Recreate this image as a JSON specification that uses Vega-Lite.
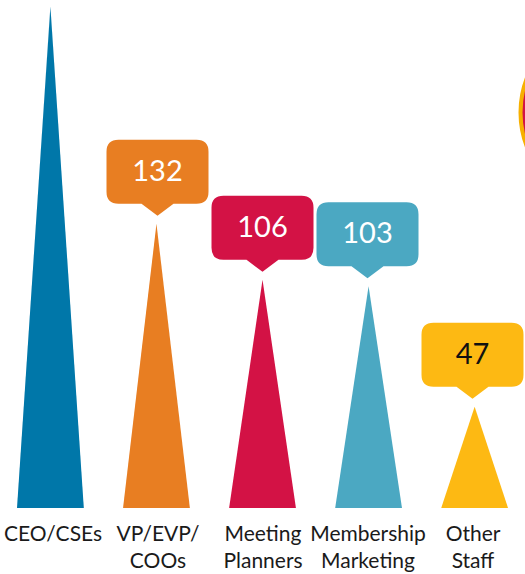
{
  "$schema": "https://vega.github.io/schema/vega-lite/v6.json",
  "autosize": "none",
  "width": 525,
  "height": 508,
  "padding": {"left": 0, "top": 0, "right": 0, "bottom": 66},
  "background": "white",
  "config": {"view": {"stroke": null}},
  "data": {
    "values": [
      {"cat": "CEO/CSEs", "value": 233, "label": "233"},
      {"cat": "VP/EVP/COOs", "value": 132, "label": "132"},
      {"cat": "Meeting Planners", "value": 106, "label": "106"},
      {"cat": "Membership Marketing", "value": 103, "label": "103"},
      {"cat": "Other Staff", "value": 47, "label": "47"}
    ]
  },
  "resolve": {"scale": {"x": "independent"}, "axis": {"x": "independent"}},
  "encoding": {
    "y": {
      "field": "value",
      "type": "quantitative",
      "scale": {"domain": [0, 236], "nice": false},
      "axis": null
    },
    "color": {
      "field": "cat",
      "type": "nominal",
      "sort": null,
      "scale": {
        "domain": ["CEO/CSEs", "VP/EVP/COOs", "Meeting Planners", "Membership Marketing", "Other Staff"],
        "range": ["#0077A9", "#E87E22", "#D31245", "#4BA8C2", "#FDB913"]
      },
      "legend": null
    }
  },
  "layer": [
    {
      "transform": [
        {"window": [{"op": "row_number", "as": "idx"}]},
        {"calculate": "datum.idx - 1.315", "as": "a"},
        {"calculate": "datum.idx - 1", "as": "b"},
        {"calculate": "datum.idx - 0.685", "as": "c"},
        {"fold": ["a", "b", "c"], "as": ["corner", "px"]},
        {"calculate": "datum.corner == 'b' ? datum.value : 0", "as": "h"}
      ],
      "mark": {"type": "area", "opacity": 1, "orient": "vertical"},
      "encoding": {
        "x": {"field": "px", "type": "quantitative", "scale": {"domain": [-0.4752, 4.4748], "nice": false, "zero": false}, "axis": null},
        "y": {"field": "h", "type": "quantitative", "stack": null}
      }
    },
    {
      "layer": [
        {
          "transform": [{"filter": "datum.cat != 'CEO/CSEs'"}],
          "mark": {
            "type": "point",
            "filled": true,
            "opacity": 1,
            "size": 4,
            "shape": "M 0 -8 L -16 -20 L -39 -20 Q -51 -20 -51 -32 L -51 -72 Q -51 -84 -39 -84 L 39 -84 Q 51 -84 51 -72 L 51 -32 Q 51 -20 39 -20 L 16 -20 Z"
          }
        },
        {
          "transform": [{"filter": "datum.cat != 'CEO/CSEs'"}],
          "mark": {
            "type": "text",
            "font": "Lato",
            "fontSize": 29,
            "baseline": "middle",
            "align": "center",
            "dy": -52
          },
          "encoding": {
            "text": {"field": "label"},
            "color": {
              "condition": {"test": "datum.cat == 'Other Staff'", "value": "#111111"},
              "value": "#ffffff"
            }
          }
        },
        {
          "transform": [{"filter": "datum.cat == 'CEO/CSEs'"}],
          "mark": {
            "type": "point",
            "shape": "circle",
            "filled": true,
            "opacity": 1,
            "size": 36864,
            "fill": "#D31245",
            "stroke": "#F7B000",
            "strokeWidth": 4,
            "xOffset": 564,
            "yOffset": 106
          },
          "encoding": {"color": {"value": "#D31245"}}
        }
      ],
      "encoding": {
        "x": {
          "field": "cat",
          "type": "nominal",
          "scale": {
            "domain": ["CEO/CSEs", "VP/EVP/COOs", "Meeting Planners", "Membership Marketing", "Other Staff"],
            "paddingInner": 0.37,
            "paddingOuter": 0.16
          },
          "axis": {
            "title": null,
            "orient": "bottom",
            "domain": false,
            "ticks": false,
            "labelAngle": 0,
            "labelFont": "Lato",
            "labelFontSize": 21,
            "labelColor": "#1a1a1a",
            "labelLineHeight": 27,
            "labelBaseline": "alphabetic",
            "labelPadding": 32,
            "labelLimit": 300,
            "labelOverlap": false,
            "labelExpr": "datum.value == 'VP/EVP/COOs' ? ['VP/EVP/', 'COOs'] : (indexof(datum.value, ' ') > 0 ? split(datum.value, ' ') : datum.value)"
          }
        }
      }
    }
  ]
}
